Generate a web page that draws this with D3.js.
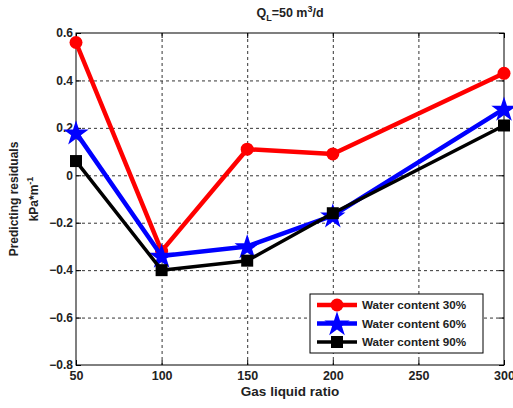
<!DOCTYPE html>
<html lang="en">
<head>
    <meta charset="UTF-8">
    <title>Predicting residuals</title>
    <script src="https://d3js.org/d3.v7.min.js"></script>
    <style>
        body {
            margin: 0;
            background: #fff;
            font-family: Arial, 'Liberation Sans', sans-serif;
        }
        svg text {
            font-weight: bold;
            fill: #222;
        }
        .grid line {
            stroke: #000;
            stroke-dasharray: 3,3;
            stroke-opacity: 0.8;
        }
        .grid path { stroke: none; }
    </style>
</head>
<body>
    <div id="chart"></div>
    <script>
        // Data
        const gasLiquidRatio = [50, 100, 150, 200, 300];
        const water30 = [0.56, -0.32, 0.11, 0.09, 0.43];
        const water60 = [0.18, -0.34, -0.30, -0.17, 0.28];
        const water90 = [0.06, -0.40, -0.36, -0.16, 0.21];
        const xTicks = [50, 100, 150, 200, 250, 300];
        const yTicks = [-0.8, -0.6, -0.4, -0.2, 0, 0.2, 0.4, 0.6];

        const series = [
            { name: "Water content 30%", values: water30, color: "#ff0000", marker: "circle", lw: 4.5 },
            { name: "Water content 60%", values: water60, color: "#0000ff", marker: "star", lw: 4.5 },
            { name: "Water content 90%", values: water90, color: "#000000", marker: "square", lw: 3.5 }
        ];

        const W = 513, H = 408;
        const margin = { top: 33, right: 9, bottom: 43, left: 76 };
        const width = W - margin.left - margin.right;
        const height = H - margin.top - margin.bottom;

        const root = d3.select("#chart").append("svg")
            .attr("width", W)
            .attr("height", H);

        const svg = root.append("g")
            .attr("transform", `translate(${margin.left},${margin.top})`);

        const x = d3.scaleLinear().domain([50, 300]).range([0, width]);
        const y = d3.scaleLinear().domain([-0.8, 0.6]).range([height, 0]);

        // Gridlines
        svg.append("g")
            .attr("class", "grid")
            .call(d3.axisBottom(x).tickValues(xTicks.slice(1, -1)).tickSize(height).tickFormat(""));
        svg.append("g")
            .attr("class", "grid")
            .call(d3.axisLeft(y).tickValues(yTicks.slice(1, -1)).tickSize(-width).tickFormat(""));

        // Box
        svg.append("rect")
            .attr("width", width)
            .attr("height", height)
            .attr("fill", "none")
            .attr("stroke", "#000")
            .attr("stroke-width", 1);

        // Axes with inward ticks
        const xAxis = svg.append("g")
            .attr("transform", `translate(0,${height})`)
            .call(d3.axisBottom(x).tickValues(xTicks).tickSizeInner(-5).tickSizeOuter(0).tickPadding(9).tickFormat(d3.format("d")));
        xAxis.select(".domain").remove();
        xAxis.selectAll("text").style("font-size", "12.5px").attr("dy", "0.5em");

        const yAxis = svg.append("g")
            .call(d3.axisLeft(y).tickValues(yTicks).tickSizeInner(-5).tickSizeOuter(0).tickPadding(3)
                .tickFormat(d => d === 0 ? "0" : d3.format(".1f")(d)));
        yAxis.select(".domain").remove();
        yAxis.selectAll("text").style("font-size", "12px");

        // top/right tick marks
        svg.append("g")
            .call(d3.axisTop(x).tickValues(xTicks).tickSizeInner(-5).tickSizeOuter(0).tickFormat(""))
            .select(".domain").remove();
        svg.append("g")
            .attr("transform", `translate(${width},0)`)
            .call(d3.axisRight(y).tickValues(yTicks).tickSizeInner(-5).tickSizeOuter(0).tickFormat(""))
            .select(".domain").remove();

        // Markers
        function drawMarker(g, s, cx, cy, scale) {
            const k = scale || 1;
            if (s.marker === "circle") {
                g.append("circle").attr("cx", cx).attr("cy", cy).attr("r", 6.5 * k).attr("fill", s.color);
            } else if (s.marker === "star") {
                g.append("path").attr("d", d3.symbol().type(d3.symbolStar).size(200 * k * k)())
                    .attr("transform", `translate(${cx},${cy + 1})`).attr("fill", s.color);
            } else {
                const a = 12 * k;
                g.append("rect").attr("x", cx - a / 2).attr("y", cy - a / 2).attr("width", a).attr("height", a).attr("fill", s.color);
            }
        }

        const line = d3.line().x((d, i) => x(gasLiquidRatio[i])).y(d => y(d));
        const plot = svg.append("g");
        series.forEach(s => {
            plot.append("path")
                .attr("d", line(s.values))
                .attr("fill", "none")
                .attr("stroke", s.color)
                .attr("stroke-width", s.lw)
                .attr("stroke-linejoin", "round");
            s.values.forEach((v, i) => drawMarker(plot, s, x(gasLiquidRatio[i]), y(v)));
        });

        // Legend
        const lg = root.append("g").attr("transform", "translate(310,294)");
        lg.append("rect")
            .attr("width", 173)
            .attr("height", 59)
            .attr("fill", "#fff")
            .attr("stroke", "#000")
            .attr("stroke-width", 1);
        series.forEach((s, i) => {
            const ly = 11 + i * 18.5;
            lg.append("line")
                .attr("x1", 7).attr("x2", 47)
                .attr("y1", ly).attr("y2", ly)
                .attr("stroke", s.color)
                .attr("stroke-width", s.lw);
            drawMarker(lg, s, 27, ly, 1);
            lg.append("text")
                .attr("x", 52)
                .attr("y", ly)
                .attr("dy", "0.35em")
                .style("font-size", "11.7px")
                .text(s.name);
        });

        // Title
        const title = root.append("text")
            .attr("x", margin.left + width / 2)
            .attr("y", 17)
            .attr("text-anchor", "middle")
            .style("font-size", "12.5px");
        title.append("tspan").text("Q");
        title.append("tspan").attr("dy", 4).style("font-size", "9px").text("L");
        title.append("tspan").attr("dy", -4).text("=50 m");
        title.append("tspan").attr("dy", -5).style("font-size", "9px").text("3");
        title.append("tspan").attr("dy", 5).text("/d");

        // X label
        root.append("text")
            .attr("x", margin.left + width / 2)
            .attr("y", 396)
            .attr("text-anchor", "middle")
            .style("font-size", "13.5px")
            .text("Gas liquid ratio");

        // Y label
        const cy = margin.top + height / 2;
        root.append("text")
            .attr("transform", `translate(18,${cy}) rotate(-90)`)
            .attr("text-anchor", "middle")
            .style("font-size", "12px")
            .text("Predicting residuals");
        const yl2 = root.append("text")
            .attr("transform", `translate(38,${cy}) rotate(-90)`)
            .attr("text-anchor", "middle")
            .style("font-size", "12px");
        yl2.append("tspan").text("kPa*m");
        yl2.append("tspan").attr("dy", -5).style("font-size", "9px").text("-1");
    </script>
</body>
</html>
